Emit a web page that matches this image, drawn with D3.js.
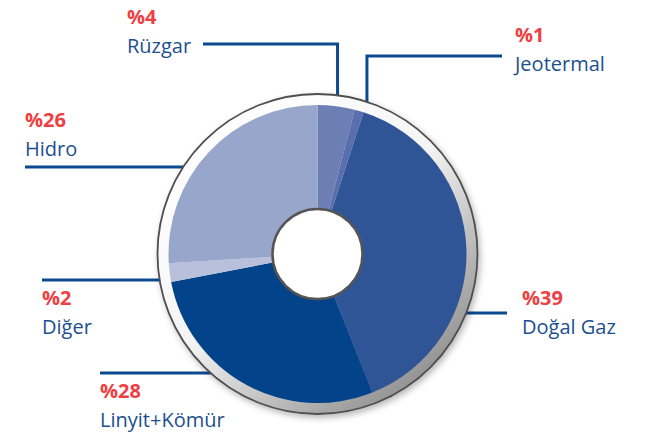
<!DOCTYPE html>
<html>
<head>
<meta charset="utf-8">
<script src="https://cdn.jsdelivr.net/npm/d3@7"></script>
<style>
  body { margin: 0; background: #fff; }
  svg { display: block; font-family: "Open Sans", sans-serif; }
</style>
</head>
<body>
<svg width="667" height="433"></svg>
<script>
// energy mix shares (%), clockwise from 12 o'clock
const categories = ["Rüzgar", "Jeotermal", "Doğal Gaz", "Linyit+Kömür", "Diğer", "Hidro"];
const shares = [4, 1, 39, 28, 2, 26];
const sliceColors = ["#6c7eb4", "#5a6ead", "#2f5597", "#03438a", "#b9c0dc", "#98a6cb"];

// where each label sits and how its leader runs (h = horizontal to ring, v = elbow down to ring)
// "along" = where on the slice's arc the vertical leader lands (0 start .. 1 end)
const labelLayout = [
  { x: 127, y: 24, kind: "v", lineY: 44, lineX: 203, along: 0.5 },
  { x: 515, y: 42, kind: "v", lineY: 56, lineX: 502, along: 1.0 },
  { x: 522, y: 305, kind: "h", lineY: 313, lineX: 507 },
  { x: 100, y: 398, kind: "h", lineY: 373, lineX: 100 },
  { x: 42, y: 305, kind: "h", lineY: 280, lineX: 42 },
  { x: 25, y: 127, kind: "h", lineY: 167, lineX: 25 }
];

let svg = d3.select("svg");
let cx = 317.5, cy = 254;
let pieR = 149, ringR = 160, holeR = 45;

let defs = svg.append("defs");
let grad = defs.append("linearGradient")
    .attr("id", "ringGrad")
    .attr("x1", "15%").attr("y1", "10%")
    .attr("x2", "85%").attr("y2", "95%");
grad.append("stop").attr("offset", "0%").attr("stop-color", "#ffffff");
grad.append("stop").attr("offset", "45%").attr("stop-color", "#f4f4f4");
grad.append("stop").attr("offset", "100%").attr("stop-color", "#888888");

let shadow = defs.append("filter").attr("id", "shadow")
    .attr("x", "-20%").attr("y", "-20%").attr("width", "140%").attr("height", "140%");
shadow.append("feDropShadow")
    .attr("dx", 2).attr("dy", 3).attr("stdDeviation", 3)
    .attr("flood-color", "#000").attr("flood-opacity", 0.28);

let pie = d3.pie().sort(null).value(d => d);
let arcs = pie(shares);

// leader lines first, the ring covers their ends
let leaders = svg.append("g").attr("id", "leaders");
arcs.forEach(function(a, i) {
    let L = labelLayout[i];
    if (L.kind === "v") {
        let ang = a.startAngle + (a.endAngle - a.startAngle) * L.along;
        let vx = cx + ringR * Math.sin(ang);
        let vy = cy - Math.sqrt(ringR * ringR - (vx - cx) * (vx - cx)) + 4;
        leaders.append("path")
            .attr("d", "M" + L.lineX + "," + L.lineY + "H" + vx + "V" + vy);
    } else {
        let dy = L.lineY - cy;
        let dx = Math.sqrt(ringR * ringR - dy * dy) - 4;
        let ex = L.lineX > cx ? cx + dx : cx - dx;
        leaders.append("path")
            .attr("d", "M" + L.lineX + "," + L.lineY + "H" + ex);
    }
});
leaders.selectAll("path")
    .attr("fill", "none")
    .attr("stroke", "#0c4a90")
    .attr("stroke-width", 3);

let donut = svg.append("g").attr("transform", "translate(" + cx + "," + cy + ")");

// bevel ring
donut.append("circle")
    .attr("r", ringR)
    .attr("fill", "url(#ringGrad)")
    .attr("stroke", "#4f4f4f")
    .attr("stroke-width", 1.8)
    .attr("filter", "url(#shadow)");

let arc = d3.arc().innerRadius(0).outerRadius(pieR);
donut.selectAll("path.slice")
    .data(arcs)
    .enter().append("path")
    .attr("class", "slice")
    .attr("d", arc)
    .attr("fill", (d, i) => sliceColors[i]);

donut.append("circle")
    .attr("r", holeR)
    .attr("fill", "#fff")
    .attr("stroke", "#555")
    .attr("stroke-width", 2.5);

// labels
let labels = svg.append("g").attr("id", "labels");
categories.forEach(function(c, i) {
    let L = labelLayout[i];
    labels.append("text")
        .attr("x", L.x).attr("y", L.y)
        .attr("fill", "#ee4043")
        .style("font-size", "20px")
        .style("font-weight", "bold")
        .text("%" + shares[i]);
    labels.append("text")
        .attr("x", L.x).attr("y", L.y + 29)
        .attr("fill", "#1d4f8e")
        .style("font-size", "20px")
        .text(c);
});
</script>
</body>
</html>
